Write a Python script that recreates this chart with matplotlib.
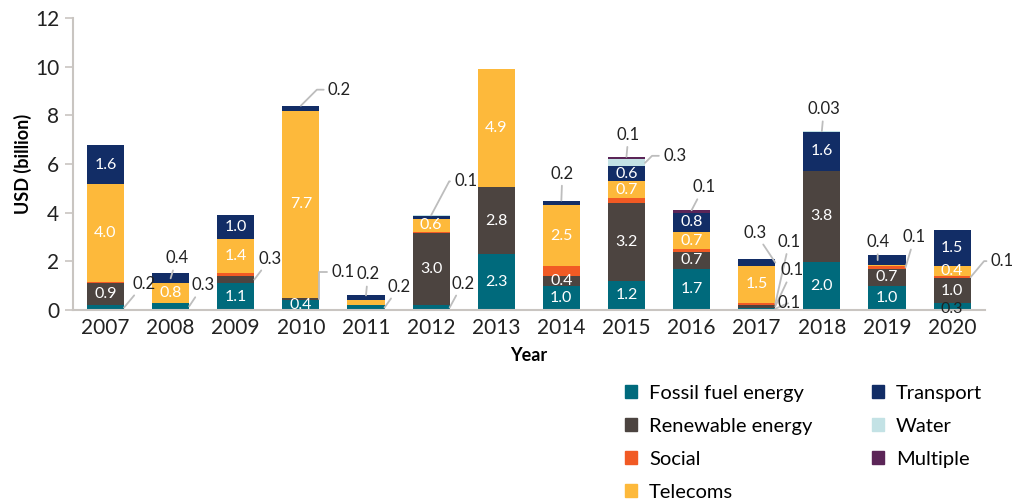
import numpy as np
import matplotlib
matplotlib.use('Agg')
import matplotlib.pyplot as plt
from matplotlib.patches import Patch

plt.rcParams['font.family'] = ['Lato', 'DejaVu Sans']

years = ['2007', '2008', '2009', '2010', '2011', '2012', '2013',
         '2014', '2015', '2016', '2017', '2018', '2019', '2020']

# USD billion per sector, bottom to top of each stack
fossil    = [0.2, 0.3, 1.1, 0.4, 0.2, 0.2, 2.3, 1.0, 1.2, 1.7, 0.1, 1.97, 1.0, 0.3]
renewable = [0.9, 0.0, 0.3, 0.1, 0.0, 2.95, 2.75, 0.4, 3.2, 0.7, 0.1, 3.75, 0.7, 1.0]
social    = [0.07, 0.0, 0.1, 0.0, 0.0, 0.05, 0.0, 0.4, 0.2, 0.1, 0.1, 0.0, 0.1, 0.1]
telecoms  = [4.0, 0.8, 1.4, 7.7, 0.2, 0.55, 4.86, 2.5, 0.7, 0.7, 1.5, 0.0, 0.05, 0.4]
transport = [1.6, 0.4, 1.0, 0.2, 0.2, 0.1, 0.0, 0.2, 0.6, 0.8, 0.3, 1.6, 0.4, 1.5]
water     = [0.0, 0.0, 0.0, 0.0, 0.0, 0.04, 0.0, 0.0, 0.3, 0.0, 0.0, 0.03, 0.0, 0.0]
multiple  = [0.0, 0.0, 0.0, 0.0, 0.0, 0.0, 0.0, 0.0, 0.1, 0.1, 0.0, 0.0, 0.0, 0.0]

series_names = ['Fossil fuel energy', 'Renewable energy', 'Social', 'Telecoms',
                'Transport', 'Water', 'Multiple']
series_vals = [fossil, renewable, social, telecoms, transport, water, multiple]
colors = ['#006a7c', '#4c4440', '#f15a24', '#fdb93b', '#122d66', '#c3e2e5', '#5b2557']

# labels drawn outside the bars: (year idx, series idx, anchor, dx px, dy px, elbow angle)
outside = [
    (0, 0, 'right', 20, 24, None),
    (1, 4, 'center', 6, 20, None),
    (1, 0, 'right', 14, 21, None),
    (2, 1, 'right', 16, 21, None),
    (3, 4, 'top', 27, 16, 45),
    (3, 1, 'right', 12, 27, 90),
    (4, 4, 'top', 2, 21, None),
    (4, 0, 'right', 15, 21, None),
    (5, 0, 'right', 13, 24, None),
    (5, 4, 'top', 23, 34, 62),
    (7, 4, 'top', 1, 27, None),
    (8, 6, 'top', 2, 22, None),
    (8, 5, 'right', 18, 7, 45),
    (9, 6, 'top', 12, 23, None),
    (10, 4, 'right', -20, 30, None),
    (10, 2, 'right', 14, 62, None),
    (10, 1, 'right', 17, 36, None),
    (10, 0, 'right', 14, 6, None),
    (11, 5, 'top', 2, 22, None),
    (12, 4, 'left', 0, 18, None),
    (12, 2, 'right', 9, 30, None),
    (13, 2, 'right', 20, 16, 50),
]

x = np.arange(len(years))
width = 0.57

fig = plt.figure(figsize=(10.13, 5.04), dpi=100)
ax = fig.add_axes([0.072, 0.385, 0.9, 0.579])

bottoms = np.zeros(len(years))
seg_bottom = []
for vals, name, c in zip(series_vals, series_names, colors):
    vals = np.array(vals)
    ax.bar(x, vals, width, bottom=bottoms, color=c, label=name, linewidth=0)
    seg_bottom.append(bottoms.copy())
    bottoms = bottoms + vals
totals = bottoms

skip = set((o[0], o[1]) for o in outside)

# labels inside the bars (social slices are never labelled)
for s, vals in enumerate(series_vals):
    if s == 2:
        continue
    for i, v in enumerate(vals):
        if (i, s) in skip or v < 0.4:
            continue
        ax.text(x[i], seg_bottom[s][i] + v / 2, f'{v:.1f}', ha='center', va='center',
                color='white', fontsize=11.5)
# 2020 fossil fuel label sits low, in dark text
ax.text(x[13], 0.05, f'{fossil[13]:.1f}', ha='center', va='center', color='#222222',
        fontsize=11.5)

# labels outside with leader lines
for i, s, anchor, dx, dy, elbow in outside:
    v = series_vals[s][i]
    ymid = seg_bottom[s][i] + v / 2
    if anchor == 'right':
        xy = (x[i] + width / 2, ymid)
    elif anchor == 'left':
        xy = (x[i] - width / 4, ymid)
    elif anchor == 'top':
        xy = (x[i], totals[i])
    else:
        xy = (x[i], ymid)
    txt = f'{v:.2f}' if v < 0.05 else f'{v:.1f}'
    ap = dict(arrowstyle='-', color='#bdbdbd', lw=1.3, shrinkA=1, shrinkB=0)
    if elbow is not None:
        ap['connectionstyle'] = f'angle,angleA=0,angleB={elbow},rad=0'
        ap['relpos'] = (0, 0.5)
        ha = 'left'
    else:
        ha = 'center'
    ax.annotate(txt, xy=xy, xytext=(dx, dy), textcoords='offset pixels',
                ha=ha, va='center', fontsize=12, color='#222222', arrowprops=ap)

ax.set_xlim(-0.5, 13.5)
ax.set_ylim(0, 12)
ax.set_yticks(np.arange(0, 13, 2))
ax.set_xticks(x)
ax.set_xticklabels(years)
ax.tick_params(axis='x', length=0, labelsize=15, pad=6, colors='#222222')
ax.tick_params(axis='y', length=6, width=1.2, color='#c9c5c1', labelsize=15, pad=4,
               labelcolor='#222222')
for side in ['top', 'right']:
    ax.spines[side].set_visible(False)
for side in ['left', 'bottom']:
    ax.spines[side].set_color('#c9c5c1')
    ax.spines[side].set_linewidth(1.5)

ax.set_xlabel('Year', fontsize=13, fontweight='bold', labelpad=6)
ax.set_ylabel('USD (billion)', fontsize=13, fontweight='bold', labelpad=2)

handles = [Patch(color=c, label=n) for n, c in zip(series_names, colors)]
fig.legend(handles=handles, loc='upper left', bbox_to_anchor=(0.607, 0.257), ncol=2,
           frameon=False, fontsize=14.5, handlelength=0.6, handleheight=0.6,
           handletextpad=0.6, labelspacing=0.8, columnspacing=2.95, borderpad=0)

fig.savefig('out.png', dpi=100)
